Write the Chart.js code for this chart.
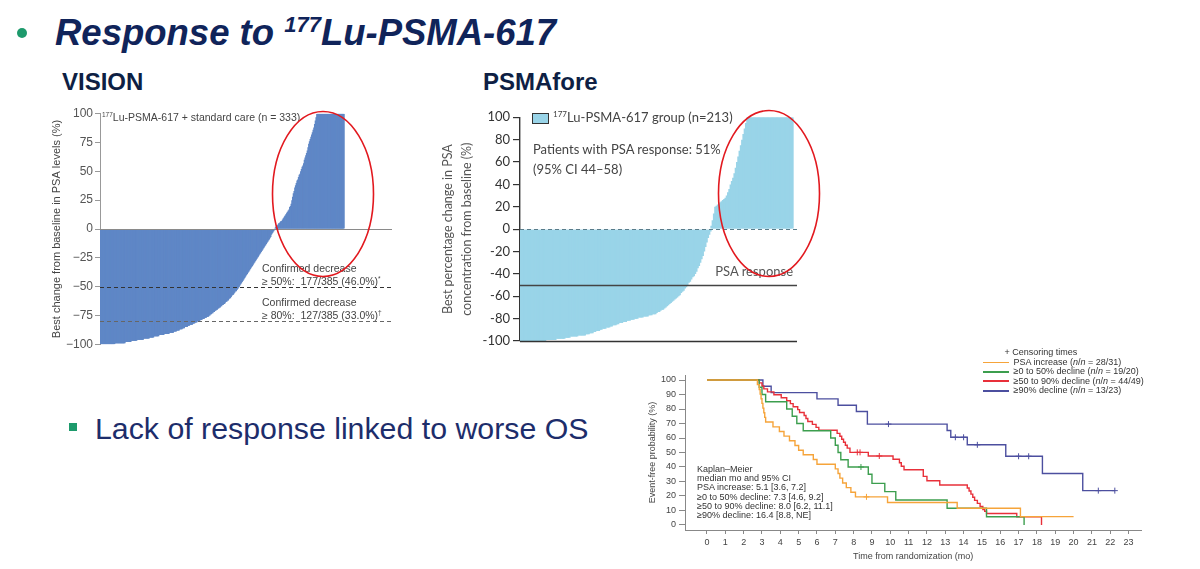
<!DOCTYPE html>
<html>
<head>
<meta charset="utf-8">
<script src="https://cdn.jsdelivr.net/npm/chart.js@4.4.1/dist/chart.umd.min.js"></script>
<style>
html, body { margin: 0; padding: 0; background: #fff; }
#page { position: relative; width: 1200px; height: 569px; overflow: hidden; font-family: "Liberation Sans", Arial, sans-serif; }
.t { position: absolute; white-space: nowrap; line-height: 1; }
.sup { font-size: 0.62em; position: relative; top: -0.55em; }
canvas { position: absolute; }
.vis { font-size: 10.5px; color: #444; }
.psf { font-family: Lato, "Noto Sans", sans-serif; font-size: 13px; color: #444; }
.km { font-size: 9px; color: #333; }
.kmline { position: absolute; height: 1.5px; width: 26px; left: 983px; }
</style>
</head>
<body>
<div id="page">
  <!-- slide text -->
  <div style="position:absolute;left:17px;top:28px;width:10px;height:10px;border-radius:50%;background:#1d9a6c;"></div>
  <div class="t" style="left:55px;top:15px;font-size:36.5px;font-weight:bold;font-style:italic;color:#10245a;">Response to <span class="sup" style="font-size:22px;top:-13px;">177</span>Lu-PSMA-617</div>
  <div class="t" style="left:62px;top:70px;font-size:24px;font-weight:bold;color:#0e1f44;">VISION</div>
  <div class="t" style="left:483px;top:70px;font-size:24px;font-weight:bold;color:#0e1f44;">PSMAfore</div>
  <div style="position:absolute;left:69px;top:423px;width:8px;height:8px;background:#1d9a6c;"></div>
  <div class="t" style="left:95px;top:414px;font-size:30.3px;color:#1d2d6b;">Lack of response linked to worse OS</div>

  <canvas id="vision" width="370" height="260" style="left:40px;top:100px;"></canvas>
  <canvas id="psmafore" width="380" height="260" style="left:430px;top:100px;"></canvas>
  <canvas id="km" width="560" height="224" style="left:640px;top:345px;"></canvas>

  <!-- VISION annotations -->
  <div class="t vis" style="left:102px;top:112px;"><span class="sup">177</span>Lu-PSMA-617 + standard care (n = 333)</div>
  <div class="t vis" style="left:262px;top:263px;">Confirmed decrease</div>
  <div class="t vis" style="left:262px;top:276px;">&ge; 50%:&nbsp; 177/385 (46.0%)<span class="sup">*</span></div>
  <div class="t vis" style="left:262px;top:297px;">Confirmed decrease</div>
  <div class="t vis" style="left:262px;top:310px;">&ge; 80%:&nbsp; 127/385 (33.0%)<span class="sup">&dagger;</span></div>

  <!-- PSMAfore annotations -->
  <div style="position:absolute;left:532px;top:112.5px;width:15px;height:9px;border:1px solid #333;background:#99d4e8;"></div>
  <div class="t psf" style="left:553px;top:110.5px;"><span class="sup">177</span>Lu-PSMA-617 group (n=213)</div>
  <div class="t psf" style="left:533px;top:142.5px;">Patients with PSA response: 51%</div>
  <div class="t psf" style="left:533px;top:162.5px;">(95% CI 44&ndash;58)</div>
  <div class="t psf" style="right:407px;top:265px;color:#555;">PSA response</div>

  <!-- KM legend -->
  <div class="t km" style="left:1004.5px;top:348px;">+ Censoring times</div>
  <div class="kmline" style="top:361.5px;background:#f6a43a;"></div>
  <div class="t km" style="left:1013.5px;top:358px;">PSA increase (<i>n</i>/<i>n</i> = 28/31)</div>
  <div class="kmline" style="top:371px;background:#3c9e4e;"></div>
  <div class="t km" style="left:1013.5px;top:367.3px;">&ge;0 to 50% decline (<i>n</i>/<i>n</i> = 19/20)</div>
  <div class="kmline" style="top:380.3px;background:#e8303a;"></div>
  <div class="t km" style="left:1013.5px;top:376.6px;">&ge;50 to 90% decline (<i>n</i>/<i>n</i> = 44/49)</div>
  <div class="kmline" style="top:390px;background:#4c4f9f;"></div>
  <div class="t km" style="left:1013.5px;top:386.3px;">&ge;90% decline (<i>n</i>/<i>n</i> = 13/23)</div>

  <!-- KM median block -->
  <div class="t km" style="left:697px;top:465px;">Kaplan&ndash;Meier</div>
  <div class="t km" style="left:697px;top:474.2px;">median mo and 95% CI</div>
  <div class="t km" style="left:697px;top:483.4px;">PSA increase: 5.1 [3.6, 7.2]</div>
  <div class="t km" style="left:697px;top:492.6px;">&ge;0 to 50% decline: 7.3 [4.6, 9.2]</div>
  <div class="t km" style="left:697px;top:501.8px;">&ge;50 to 90% decline: 8.0 [6.2, 11.1]</div>
  <div class="t km" style="left:697px;top:511px;">&ge;90% decline: 16.4 [8.8, NE]</div>

  <svg width="1200" height="569" style="position:absolute;left:0;top:0;pointer-events:none;">
    <ellipse cx="323" cy="194" rx="50.5" ry="82.5" fill="none" stroke="#e2191f" stroke-width="1.6"/>
    <ellipse cx="769" cy="193.5" rx="50.5" ry="83" fill="none" stroke="#e2191f" stroke-width="1.6"/>
  </svg>
</div>

<script>
// VISION: best PSA change per patient, sorted (n = 333)
var visionChange = [
  -100,-100,-100,-100,-100,-100,-100,-100,-100,-100,
  -100,-100,-100,-100,-100,-100,-100,-100,-100,-100,
  -99,-99,-99,-99,-99,-99,-99,-99,-99,-99,
  -99,-99,-99,-99,-98,-98,-98,-98,-98,-98,-98,-98,-97,-97,-97,-97,-97,-97,-97,-97,
  -96,-96,-96,-96,-96,-96,-96,-96,-96,-95,-95,-95,-95,-95,-95,-95,-95,
  -94,-94,-94,-94,-94,-94,-93,-93,-93,-93,-93,-93,-93,-92,-92,-92,-92,-92,-92,-92,
  -91,-91,-91,-91,-91,-91,-91,-90,-90,-90,-90,-90,-90,
  -89,-89,-89,-89,-88,-88,-88,-88,-87,-87,-87,-87,-86,-86,-86,-85,-85,-85,-85,-84,
  -84,-84,-83,-83,-83,-83,-82,-82,-82,-81,-81,-81,-80,-80,-80,
  -80,-79,-79,-79,-78,-78,-78,-77,-77,-77,-76,-76,-76,-75,-75,
  -74,-74,-73,-73,-72,-72,-71,-71,-70,-70,-69,-69,-68,-68,-67,-67,-66,-66,-65,-65,
  -64,-63,-63,-62,-62,-61,-60,-60,-59,-58,-57,-57,-56,-55,-54,-54,-53,-52,-51,-50,
  -49,-48,-47,-46,-45,-44,-43,-42,-41,-40,-39,-38,-37,-36,-35,-34,-33,-32,-31,-30,
  -29,-28,-27,-26,-25,
  -24,-23,-22,-21,-20,-19,-18,-17,-16,-15,-14,-13,-12,-11,-10,-9,-8,-7,-5,-4,-3,-2,-1,
  0,1,2,3,3,4,5,5,6,7,7,8,9,10,
  11,12,13,14,15,16,17,19,20,22,25,
  28,31,33,36,38,40,42,43,45,47,48,50,
  52,54,55,57,60,62,64,66,68,71,74,
  76,78,80,82,84,86,88,91,94,97,100,
  100,100,100,100,100,100,100,100,100,100,100,100,100,100,100,100,100,100,
  100,100,100,100,100,100,100,100,100,100,100,100,100,100,100,100,100,100
];

// PSMAfore: best PSA change per patient, sorted (n = 213)
var psmaforeChange = [
  -100,-100,-100,-100,-100,-100,-100,-100,-100,-100,
  -100,-100,-100,-100,-100,-100,-100,-100,-100,-100,
  -99,-99,-99,-99,-99,-99,-99,-99,-98,-98,-98,-98,-98,
  -98,-98,-97,-97,-97,-97,-96,-96,-96,-96,-96,-96,-95,-95,-95,-95,-95,-95,
  -94,-94,-94,-93,-93,-93,-92,-92,-91,-91,-91,-90,-90,
  -89,-89,-89,-88,-88,-88,-87,-87,-86,-86,-86,-85,-85,
  -84,-84,-84,-83,-83,-83,-82,-82,-82,-81,-81,-81,-80,-80,
  -80,-79,-79,-79,-79,-78,-78,-78,-78,-77,-77,-77,-76,-76,-76,-75,
  -74,-74,-73,-72,-72,-71,-70,
  -69,-68,-67,-66,-65,-64,-63,-62,-61,-60,
  -59,-57,-56,-55,-53,-52,-50,
  -48,-47,-45,-43,-42,-40,
  -38,-35,-33,-30,-27,-24,-20,-16,-12,-8,-5,-2,
  3,8,14,20,21,22,23,24,25,26,27,28,30,
  33,36,40,43,46,50,
  55,60,65,70,75,80,85,90,95,100,
  100,100,100,100,100,100,100,100,100,100,100,100,100,100,100,100,100,100,
  100,100,100,100,100,100,100,100,100,100,100,100,100,100,100,100,100
];

// Kaplan-Meier: time (mo) and event-free probability (%) after each step
var orangeT = [0, 2.75, 2.85, 2.9, 2.95, 3.0, 3.05, 3.1, 3.15, 3.2, 3.6, 3.95, 4.2, 4.5, 4.8, 5.0, 5.25, 5.8, 6.0, 7.0, 7.15, 7.25, 7.4, 7.6, 7.85, 8.1, 9.85, 13.65, 17.1, 20.0];
var orangeS = [100, 96.8, 93.5, 90.3, 87.1, 83.9, 80.6, 77.4, 74.2, 71.0, 67.7, 64.5, 61.3, 58.1, 54.8, 51.6, 48.4, 45.2, 41.9, 38.7, 35.5, 32.3, 29.0, 25.8, 22.6, 19.4, 15.5, 11.6, 5.8, 5.8];
var greenT = [0, 2.85, 3.0, 3.2, 4.35, 4.65, 4.9, 5.25, 6.75, 7.0, 7.15, 7.3, 7.7, 8.8, 9.0, 9.7, 10.3, 13.1, 15.25, 17.3];
var greenS = [100, 95, 90, 85, 80, 75, 70, 65, 60, 55, 50, 45, 40, 35, 28.7, 23, 17.2, 11.5, 5.7, 0];
var redT = [0, 2.85, 3.0, 3.1, 3.3, 3.65, 4.05, 4.35, 4.55, 4.7, 4.95, 5.05, 5.3, 5.4, 5.5, 5.75, 5.95, 6.1, 7.1, 7.25,
            7.35, 7.45, 7.55, 7.65, 7.8, 8.8, 10.15, 10.5, 10.6, 10.75, 11.8, 12.0, 12.7, 14.2, 14.3, 14.4, 14.5, 14.6, 14.75, 14.9,
            15.05, 15.15, 15.25, 16.9, 18.25];
var redS = [100, 98.0, 95.9, 93.9, 91.8, 89.8, 87.8, 85.7, 83.7, 81.6, 79.6, 77.6, 75.5, 73.5, 71.4, 69.4, 67.3, 65.3, 63.2, 61.2,
            59.1, 57.1, 55.0, 53.0, 50.1, 47.6, 45.3, 42.9, 40.5, 38.1, 33.5, 30.5, 27.6, 25.5, 23.4, 21.3, 19.1, 17.0, 14.9, 12.8,
            10.6, 9.5, 7.9, 5.6, 0];
var blueT = [0, 3.05, 3.5, 6.0, 7.15, 8.15, 8.75, 13.1, 13.3, 14.2, 16.3, 18.3, 20.5, 22.25];
var blueS = [100, 95.7, 91.3, 87.0, 82.6, 78.3, 69.6, 65.2, 60.5, 55.3, 47.4, 35.5, 23.7, 23.7];

// censoring times (mo) and the level they sit on
var orangeCensT = [8.7];
var orangeCensS = [19.4];
var greenCensT = [8.4];
var greenCensS = [40];
var redCensT = [8.2, 8.35, 9.4];
var redCensS = [50.1, 50.1, 47.6];
var blueCensT = [9.9, 13.55, 14.0, 14.75, 17.0, 17.55, 21.35, 22.25];
var blueCensS = [69.6, 60.5, 60.5, 55.3, 47.4, 47.4, 23.7, 23.7];

var kmMonths = [0,1,2,3,4,5,6,7,8,9,10,11,12,13,14,15,16,17,18,19,20,21,22,23];
var kmPercent = [0,10,20,30,40,50,60,70,80,90,100];

// horizontal reference lines drawn through the y scale
var refLinePlugin = {
  id: 'refLines',
  afterDatasetsDraw: function(chart, args, opts) {
    var ctx = chart.ctx, area = chart.chartArea, y = chart.scales.y;
    (opts.lines || []).forEach(function(l) {
      var py = Math.round(y.getPixelForValue(l.value)) + 0.5;
      ctx.save();
      ctx.strokeStyle = l.color;
      ctx.lineWidth = l.width || 1;
      ctx.setLineDash(l.dash || []);
      ctx.beginPath();
      ctx.moveTo(area.left, py);
      ctx.lineTo(area.right, py);
      ctx.stroke();
      ctx.restore();
    });
  }
};

function points(xs, ys) {
  return xs.map(function(x, i) { return {x: x, y: ys[i]}; });
}

// ---- VISION waterfall ----
// bars are narrower than a pixel, so they are widened to overlap and avoid seams
new Chart(document.getElementById('vision'), {
  type: 'bar',
  data: {
    datasets: [{
      data: visionChange.map(function(v, i) { return {x: i + 1, y: v}; }),
      backgroundColor: '#5f87c6',
      borderWidth: 0,
      barPercentage: 3,
      categoryPercentage: 1
    }]
  },
  options: {
    responsive: false, animation: false, devicePixelRatio: 1,
    layout: { padding: { top: 13.7, right: 18, bottom: 15.7, left: 0 } },
    plugins: {
      legend: { display: false }, tooltip: { enabled: false },
      refLines: { lines: [
        { value: 0, color: '#8a8a8a', width: 1 },
        { value: -50, color: '#333', width: 1, dash: [4, 3] },
        { value: -80, color: '#666', width: 1, dash: [4, 3] }
      ] }
    },
    scales: {
      x: { type: 'linear', min: 0.5, max: 399, offset: false, display: false },
      y: {
        min: -100, max: 100,
        afterFit: function(s) { s.width = 60; },
        ticks: {
          stepSize: 25, color: '#555', padding: 2,
          font: { family: 'Liberation Sans', size: 12 },
          callback: function(v) { return v < 0 ? '\u2212' + (-v) : '' + v; }
        },
        grid: { drawOnChartArea: false, tickLength: 5, color: '#999' },
        border: { color: '#999' },
        title: {
          display: true, text: 'Best change from baseline in PSA levels (%)',
          color: '#444', font: { family: 'Liberation Sans', size: 11 }, padding: { top: 10.5, bottom: 0 }
        }
      }
    }
  },
  plugins: [refLinePlugin]
});

// ---- PSMAfore waterfall ----
new Chart(document.getElementById('psmafore'), {
  type: 'bar',
  data: {
    datasets: [{
      data: psmaforeChange.map(function(v, i) { return {x: i + 1, y: v}; }),
      backgroundColor: '#99d4e8',
      borderWidth: 0,
      barPercentage: 2,
      categoryPercentage: 1
    }]
  },
  options: {
    responsive: false, animation: false, devicePixelRatio: 1,
    layout: { padding: { top: 17.3, right: 13, bottom: 19, left: 0 } },
    plugins: {
      legend: { display: false }, tooltip: { enabled: false },
      refLines: { lines: [
        { value: 0, color: '#5a7c8a', width: 1, dash: [4, 3] },
        { value: -50, color: '#444', width: 1.4 },
        { value: -100, color: '#333', width: 1.4 }
      ] }
    },
    scales: {
      x: { type: 'linear', min: 0.5, max: 216.6, offset: false, display: false },
      y: {
        min: -100, max: 100,
        afterFit: function(s) { s.width = 90; },
        ticks: { stepSize: 20, color: '#333', padding: 3, font: { family: 'Lato', size: 13 } },
        grid: { drawOnChartArea: false, tickLength: 7, color: '#333', lineWidth: 1.2 },
        border: { color: '#333', width: 1.4 },
        title: {
          display: true, text: ['Best percentage change in PSA', 'concentration from baseline (%)'],
          color: '#555', font: { family: 'Lato', size: 12.5, lineHeight: 1.5 }, padding: { top: 8.6, bottom: 0 }
        }
      }
    }
  },
  plugins: [refLinePlugin]
});

// ---- Kaplan-Meier ----
function kmLine(xs, ys, color) {
  return { type: 'line', data: points(xs, ys), borderColor: color, borderWidth: 1.4,
           stepped: true, pointRadius: 0, fill: false };
}
function kmCens(xs, ys, color) {
  return { type: 'line', data: points(xs, ys), showLine: false, pointStyle: 'cross',
           pointRadius: 3, borderColor: color, borderWidth: 1, backgroundColor: color };
}

new Chart(document.getElementById('km'), {
  type: 'line',
  data: {
    datasets: [
      kmLine(orangeT, orangeS, '#f6a43a'),
      kmLine(greenT, greenS, '#3c9e4e'),
      kmLine(redT, redS, '#e8303a'),
      kmLine(blueT, blueS, '#4c4f9f'),
      kmCens(orangeCensT, orangeCensS, '#f6a43a'),
      kmCens(greenCensT, greenCensS, '#3c9e4e'),
      kmCens(redCensT, redCensS, '#e8303a'),
      kmCens(blueCensT, blueCensS, '#4c4f9f')
    ]
  },
  options: {
    responsive: false, animation: false, devicePixelRatio: 1,
    layout: { padding: { top: 30, right: 58.6, bottom: 0, left: 0 } },
    plugins: { legend: { display: false }, tooltip: { enabled: false } },
    scales: {
      x: {
        type: 'linear', min: -1.2, max: 23.7,
        afterBuildTicks: function(s) { s.ticks = kmMonths.map(function(v) { return {value: v}; }); },
        afterFit: function(s) { s.height = 39; },
        ticks: { autoSkip: false, maxRotation: 0, color: '#444', padding: 3,
                 font: { family: 'Liberation Sans', size: 9 } },
        grid: { drawOnChartArea: false, tickLength: 4, color: '#888' },
        border: { color: '#888' },
        title: { display: true, text: 'Time from randomization (mo)', color: '#444',
                 font: { family: 'Liberation Sans', size: 9 }, padding: { top: 0, bottom: 6.6 } }
      },
      y: {
        min: -3.45, max: 103.45,
        afterBuildTicks: function(s) { s.ticks = kmPercent.map(function(v) { return {value: v}; }); },
        afterFit: function(s) { s.width = 45; },
        ticks: { color: '#444', padding: 3, font: { family: 'Liberation Sans', size: 9 } },
        grid: { drawOnChartArea: false, tickLength: 6, color: '#888' },
        border: { color: '#888' },
        title: { display: true, text: 'Event-free probability (%)', color: '#444',
                 font: { family: 'Liberation Sans', size: 9 }, padding: { top: 7.6, bottom: 0 } }
      }
    }
  }
});
</script>
</body>
</html>
